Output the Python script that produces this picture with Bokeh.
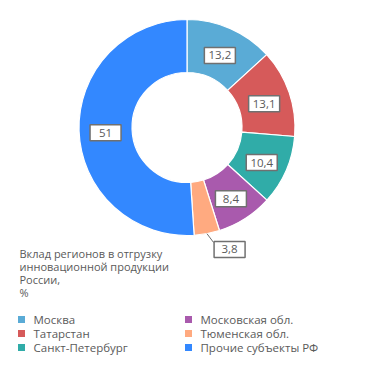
import math
from bokeh.plotting import figure
from bokeh.models import Range1d, ColumnDataSource
from bokeh.core.properties import value
from bokeh.embed import file_html
from bokeh.resources import INLINE

regions = ["Москва", "Татарстан", "Санкт-Петербург", "Московская обл.", "Тюменская обл.", "Прочие субъекты РФ"]
shares = [13.2, 13.1, 10.4, 8.4, 3.8, 51]
labels = ["13,2", "13,1", "10,4", "8,4", "3,8", "51"]
colors = ["#5aabd6", "#d65a5a", "#30aca8", "#a95aad", "#ffaa80", "#3388ff"]
title_lines = ["Вклад регионов в отгрузку", "инновационной продукции", "России,", "%"]

W, H = 371, 369
FONT = "Open Sans"
TXT = "#5a5a5a"
BOX_W, BOX_H = 31, 16

p = figure(width=W, height=H, output_backend="svg", toolbar_location=None,
           x_range=Range1d(0, W), y_range=Range1d(0, H), min_border=0)
p.axis.visible = False
p.grid.visible = False
p.outline_line_color = None

cx, cy = 186.5, H - 127
r_in, r_out = 55, 108
total = sum(shares)
starts, ends, mids = [], [], []
acc = 0.0
for v in shares:
    a0 = math.pi / 2 - acc / total * 2 * math.pi
    acc += v
    a1 = math.pi / 2 - acc / total * 2 * math.pi
    starts.append(a0)
    ends.append(a1)
    mids.append((a0 + a1) / 2)

src = ColumnDataSource(dict(start=starts, end=ends, color=colors))
p.annular_wedge(x=cx, y=cy, inner_radius=r_in, outer_radius=r_out,
                start_angle="start", end_angle="end", direction="clock",
                fill_color="color", line_color="white", line_width=1.2, source=src)

# label positions
out_idx = 4
rm = (r_in + r_out) / 2
lx, ly = [], []
for i, m in enumerate(mids):
    if i == out_idx:
        x0, y0 = cx + r_out * math.cos(m), cy + r_out * math.sin(m)
        x1, y1 = cx + (r_out + 9) * math.cos(m) + 5, cy + (r_out + 9) * math.sin(m)
        p.segment(x0=[x0], y0=[y0], x1=[x1], y1=[y1], line_color="#6e6e6e", line_width=1)
        lx.append(x1 + 16)
        ly.append(y1 - 7)
    else:
        lx.append(cx + rm * math.cos(m))
        ly.append(cy + rm * math.sin(m) - 2.5)

p.rect(x=lx, y=ly, width=BOX_W, height=BOX_H, fill_color="white",
       line_color="#707070", line_width=1.5)
p.text(x=lx, y=ly, text=labels, text_font=value(FONT), text_font_size="11.5px",
       text_color=TXT, text_align="center", text_baseline="middle")

# title
ty = [H - 253 - 13 * i for i in range(len(title_lines))]
p.text(x=[19] * len(title_lines), y=ty, text=title_lines, text_font=value(FONT),
       text_font_size="11px", text_color=TXT, text_align="left", text_baseline="middle")

# legend
col_x = [21, 188]
row_y = [319, 333, 347]
sx, sy, tx, tyy = [], [], [], []
for i, name in enumerate(regions):
    c, r = divmod(i, 3)
    sx.append(col_x[c])
    sy.append(H - row_y[r])
    tx.append(col_x[c] + 12)
    tyy.append(H - row_y[r])
p.scatter(x=sx, y=sy, marker="square", size=7, fill_color=colors, line_color=None)
p.text(x=tx, y=tyy, text=regions, text_font=value(FONT), text_font_size="11.5px",
       text_color=TXT, text_align="left", text_baseline="middle")

open("out.html", "w").write(file_html(p, INLINE))
